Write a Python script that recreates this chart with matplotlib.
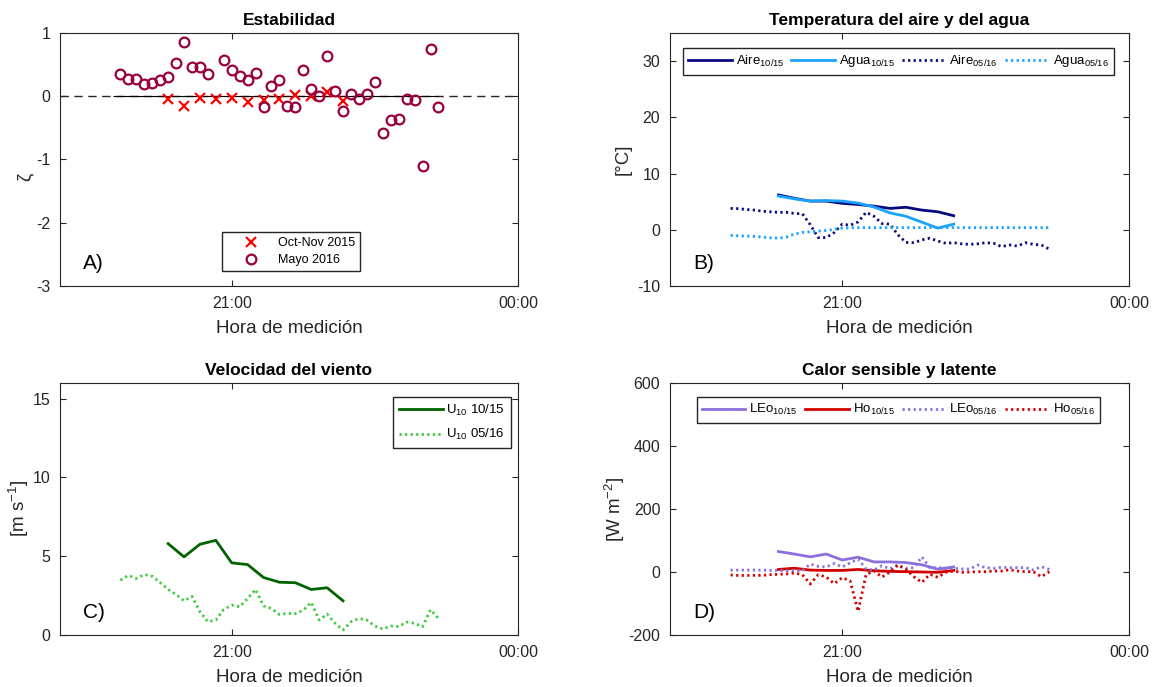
import matplotlib
matplotlib.use("Agg")
import matplotlib.pyplot as plt
import numpy as np

plt.rcParams['font.family'] = ['Liberation Sans', 'DejaVu Sans']
plt.rcParams['mathtext.fontset'] = 'custom'
plt.rcParams['mathtext.rm'] = 'Liberation Sans'
plt.rcParams['mathtext.it'] = 'Liberation Sans:italic'
plt.rcParams['mathtext.default'] = 'regular'
plt.rcParams['axes.unicode_minus'] = False

# ---------------- data ----------------
times_may = ["19:50", "19:55", "20:00", "20:05", "20:10", "20:15", "20:20", "20:25",
             "20:30", "20:35", "20:40", "20:45", "20:50", "20:55", "21:00", "21:05",
             "21:10", "21:15", "21:20", "21:25", "21:30", "21:35", "21:40", "21:45",
             "21:50", "21:55", "22:00", "22:05", "22:10", "22:15", "22:20", "22:25",
             "22:30", "22:35", "22:40", "22:45", "22:50", "22:55", "23:00", "23:05",
             "23:10"]
times_oct = ["20:20", "20:30", "20:40", "20:50", "21:00", "21:10", "21:20", "21:30",
             "21:40", "21:50", "22:00", "22:10"]

# stability parameter zeta
zeta_oct = [-0.05, -0.16, -0.03, -0.04, -0.03, -0.09, -0.06, -0.05, 0.02, 0.005, 0.07, -0.07]
zeta_may = [0.35, 0.28, 0.28, 0.20, 0.21, 0.25, 0.31, 0.52, 0.86, 0.47, 0.47, 0.35,
            np.nan, 0.57, 0.42, 0.32, 0.26, 0.37, -0.17, 0.16, 0.25, -0.16, -0.17, 0.42,
            0.11, 0.005, 0.64, 0.08, -0.24, 0.03, -0.04, 0.03, 0.22, -0.58, -0.37, -0.36,
            -0.04, -0.06, -1.10, 0.75, -0.17]

# air and water temperature [deg C]
aire_oct = [6.2, 5.6, 5.1, 5.1, 4.7, 4.5, 4.2, 3.8, 4.0, 3.5, 3.2, 2.5]
agua_oct = [6.0, 5.5, 5.1, 5.2, 5.1, 4.75, 4.05, 3.0, 2.4, 1.35, 0.3, 1.0]
aire_may = [3.8, 3.75, 3.6, 3.5, 3.3, 3.2, 3.1, 3.1, 2.9, 2.85, 0.9, -1.4,
            -1.4, -0.5, 1.0, 0.8, 1.4, 3.1, 2.4, 1.1, 1.0, -0.9, -2.25, -2.3,
            -1.8, -1.5, -2.0, -2.4, -2.3, -2.5, -2.6, -2.5, -2.3, -2.4, -3.0, -2.7,
            -2.9, -2.3, -2.6, -2.7, -3.45]
agua_may = [-1.0, -1.07, -1.13, -1.19, -1.3, -1.43, -1.5, -1.3, -0.77, -0.48, -0.36, -0.24,
            -0.12, 0.06, 0.3, 0.36, 0.38, 0.38, 0.38, 0.38, 0.38, 0.38, 0.38, 0.38,
            0.38, 0.38, 0.38, 0.38, 0.38, 0.38, 0.38, 0.38, 0.38, 0.38, 0.38, 0.38,
            0.38, 0.38, 0.38, 0.38, 0.38]

# wind speed at 10 m [m/s]
u10_oct = [5.8, 4.96, 5.76, 6.01, 4.58, 4.47, 3.65, 3.35, 3.32, 2.89, 3.0, 2.17]
u10_may = [3.48, 3.78, 3.59, 3.84, 3.73, 3.33, 2.89, 2.57, 2.17, 2.45, 1.48, 0.84,
           0.95, 1.62, 1.90, 1.79, 2.32, 2.89, 1.85, 1.69, 1.3, 1.37, 1.35, 1.58,
           2.07, 0.95, 1.33, 0.74, 0.32, 0.84, 1.05, 0.95, 0.57, 0.38, 0.57, 0.53,
           0.82, 0.74, 0.53, 1.6, 1.05]

# latent and sensible heat fluxes [W m-2]
leo_oct = [65, 57, 48, 57, 38, 47, 32, 32, 30, 23, 9, 16]
ho_oct = [8, 12, 6, 5, 5, 8, 4, 2, 1, 0, -1, 5]
leo_may = [6, 6, 6, 6, 6, 5, 5, 4, 4, 4, 25, 18,
           16, 27, 16, 29, 41, 10, 6, 20, 10, 22, 11.6, 13.8,
           48, 13.8, 13.8, 11.6, 11.6, 9.5, 9.5, 22, 13.8, 11.6, 15, 13.8,
           13.8, 13.8, 6.3, 17, 8]
ho_may = [-9.5, -11, -11, -10.6, -10.6, -8.5, -7.4, -6.3, -3.2, -8.5, -38, -8.5,
          -16, -37, -18, -28, -125, -8, 3, -16, 0, 22, 8, -15,
          -33, -7.4, -17, -1, 3, -1, 0, 1, 1, 3, 3, 7,
          3, 1, 1, -15, 1]


def to_hours(labels):
    out = []
    for s in labels:
        h, m = s.split(":")
        out.append(int(h) + int(m) / 60.0)
    return np.array(out)


t_may = to_hours(times_may)
t_oct = to_hours(times_oct)

INK = '#262626'

fig = plt.figure(figsize=(11.58, 6.87), dpi=100)
axA = fig.add_axes([0.0518, 0.5837, 0.3955, 0.3683])
axB = fig.add_axes([0.5786, 0.5837, 0.3964, 0.3683])
axC = fig.add_axes([0.0518, 0.0757, 0.3955, 0.3668])
axD = fig.add_axes([0.5786, 0.0757, 0.3964, 0.3668])


def style(ax, ylim, yticks, title, ylabel, letter, ylabelpad=4):
    ax.set_xlim(19.2, 24.0)
    ax.set_xticks([21, 24])
    ax.set_xticklabels(['21:00', '00:00'])
    ax.set_ylim(*ylim)
    ax.set_yticks(yticks)
    ax.tick_params(direction='in', top=True, right=True, length=4, width=0.8,
                   colors=INK, labelsize=11.5, pad=7)
    for sp in ax.spines.values():
        sp.set_color(INK)
        sp.set_linewidth(0.8)
    ax.set_xlabel('Hora de medición', fontsize=13.5, color=INK, labelpad=7)
    ax.set_ylabel(ylabel, fontsize=13.5, color=INK, labelpad=ylabelpad)
    ax.set_title(title, fontsize=12.5, fontweight='bold', color='black', pad=6)
    ax.text(0.05, 0.05, letter, transform=ax.transAxes, fontsize=15,
            color='black', ha='left', va='bottom')


legend_frame = dict(frameon=True, fancybox=False, edgecolor=INK, framealpha=1,
                    borderaxespad=0)

# A) stability
axA.axhline(0, color=INK, lw=1.0, ls=(0, (6, 4)), zorder=1)
axA.hlines(0, t_may[0] - 0.08, t_may[-1], color='black', lw=0.8, zorder=1)
axA.plot(t_oct, zeta_oct, ls='none', marker='x', ms=7, mew=1.6, color='#ff0000',
         label='Oct-Nov 2015', zorder=3)
axA.plot(t_may, zeta_may, ls='none', marker='o', ms=7, mew=1.6, mfc='none',
         mec='#99003d', label='Mayo 2016', zorder=3)
style(axA, (-3, 1), [-3, -2, -1, 0, 1], 'Estabilidad', 'ζ', 'A)')
axA.yaxis.set_label_coords(-0.058, 0.43)
axA.legend(loc='lower left', bbox_to_anchor=(0.354, 0.058), fontsize=9,
           handlelength=3.8, handletextpad=0.3, borderpad=0.4,
           labelspacing=0.4, **legend_frame)

# B) temperatures
dot = (0, (0.8, 1.2))
axB.plot(t_oct, aire_oct, color='#0a0a80', lw=2.0, label='Aire$_{10/15}$')
axB.plot(t_oct, agua_oct, color='#1aa3ff', lw=2.0, label='Agua$_{10/15}$')
axB.plot(t_may, aire_may, color='#0a0a80', lw=2.0, ls=dot, label='Aire$_{05/16}$')
axB.plot(t_may, agua_may, color='#1aa3ff', lw=2.0, ls=dot, label='Agua$_{05/16}$')
style(axB, (-10, 35), [-10, 0, 10, 20, 30], 'Temperatura del aire y del agua', '[°C]', 'B)')
axB.legend(loc='upper left', bbox_to_anchor=(0.028, 0.94), ncol=4, fontsize=9.5,
           handlelength=3.3, handletextpad=0.3, columnspacing=0.55,
           borderpad=0.4, **legend_frame)

# C) wind speed
axC.plot(t_oct, u10_oct, color='#006400', lw=2.0, label='U$_{10}$ 10/15')
axC.plot(t_may, u10_may, color='#3ccc3c', lw=2.0, ls=dot, label='U$_{10}$ 05/16')
style(axC, (0, 16), [0, 5, 10, 15], 'Velocidad del viento', '[m s$^{-1}$]', 'C)',
      ylabelpad=1)
axC.legend(loc='upper right', bbox_to_anchor=(0.985, 0.945), fontsize=9.5,
           handlelength=3.3, handletextpad=0.3, borderpad=0.45,
           labelspacing=0.7, **legend_frame)

# D) heat fluxes
axD.plot(t_oct, leo_oct, color='#8a70dc', lw=2.0, label='LEo$_{10/15}$')
axD.plot(t_oct, ho_oct, color='#d40000', lw=2.0, label='Ho$_{10/15}$')
axD.plot(t_may, leo_may, color='#8a70dc', lw=2.0, ls=dot, label='LEo$_{05/16}$')
axD.plot(t_may, ho_may, color='#d40000', lw=2.0, ls=dot, label='Ho$_{05/16}$')
style(axD, (-200, 600), [-200, 0, 200, 400, 600], 'Calor sensible y latente',
      '[W m$^{-2}$]', 'D)', ylabelpad=1)
axD.legend(loc='upper left', bbox_to_anchor=(0.058, 0.945), ncol=4, fontsize=9.5,
           handlelength=3.3, handletextpad=0.3, columnspacing=0.55,
           borderpad=0.4, **legend_frame)

fig.savefig('out.png', dpi=100)
